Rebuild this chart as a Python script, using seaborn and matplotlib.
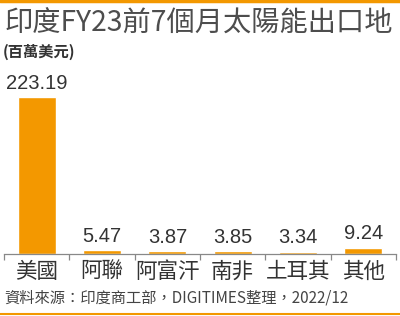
import matplotlib
matplotlib.use("Agg")
import matplotlib.pyplot as plt
import seaborn as sns
import pandas as pd

categories = ["美國", "阿聯", "阿富汗", "南非", "土耳其", "其他"]
values = [223.19, 5.47, 3.87, 3.85, 3.34, 9.24]
value_labels = ["223.19", "5.47", "3.87", "3.85", "3.34", "9.24"]
title = "印度FY23前7個月太陽能出口地"
unit = "(百萬美元)"
source = "資料來源：印度商工部，DIGITIMES整理，2022/12"

sns.set_theme(style="white")
plt.rcParams['font.family'] = ['Noto Sans CJK TC', 'DejaVu Sans']

df = pd.DataFrame({"cat": categories, "val": values})

fig = plt.figure(figsize=(4.0, 3.16), dpi=100)
orange = "#F39800"
W, H = 400, 316
ax = fig.add_axes([4 / W, 1 - 254 / H, 392 / W, (254 - 70) / H])
sns.barplot(data=df, x="cat", y="val", color=orange, saturation=1, width=0.58, ax=ax)
ax.set_ylim(0, 223.19 * (254 - 70) / (254 - 97))
ax.set_xlim(-0.5, len(categories) - 0.5)
for s in ["top", "right", "left"]:
    ax.spines[s].set_visible(False)
ax.spines["bottom"].set_color("#888888")
ax.spines["bottom"].set_linewidth(0.9)
ax.set_yticks([])
ax.set_xlabel("")
ax.set_ylabel("")
ax.set_xticks([i - 0.5 for i in range(len(categories) + 1)], minor=True)
ax.tick_params(axis="x", which="minor", length=4, width=0.9, color="#888888", bottom=True)
ax.tick_params(axis="x", which="major", length=0, pad=5, labelsize=15.5, labelcolor="#333333")
ax.set_xticks(range(len(categories)))
ax.set_xticklabels(categories)

for i, (v, lab) in enumerate(zip(values, value_labels)):
    ax.annotate(lab, (i, v), xytext=(0, 3), textcoords="offset points",
                ha="center", va="bottom", fontsize=14.5, color="#333333",
                family=["Liberation Sans", "DejaVu Sans"])

fig.text(4 / W, 1 - 24 / H, title, fontsize=20.3, color="#4d4d4d", va="center", ha="left")
fig.text(3 / W, 1 - 52 / H, unit, fontsize=11, fontweight="bold", color="#333333", va="center", ha="left")
fig.text(4 / W, 1 - 298 / H, source, fontsize=11, color="#444444", va="center", ha="left")

fig.add_artist(plt.Line2D([0, 1], [1 - 1 / H, 1 - 1 / H], color=orange, lw=2.5, transform=fig.transFigure))
fig.add_artist(plt.Line2D([0, 1], [1 - 314 / H, 1 - 314 / H], color=orange, lw=1.5, transform=fig.transFigure))

fig.savefig("out.png", dpi=100)
